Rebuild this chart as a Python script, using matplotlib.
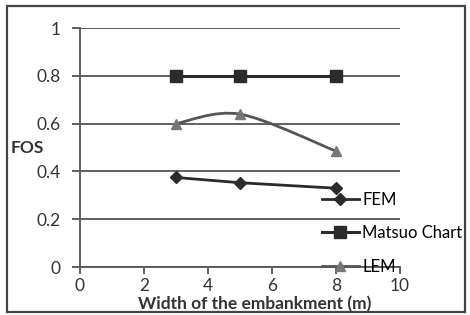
import matplotlib.pyplot as plt
from matplotlib.path import Path
from matplotlib.patches import PathPatch, Rectangle
from matplotlib.lines import Line2D

# data
width = [3, 5, 8]
fem = [0.375, 0.353, 0.330]
matsuo = [0.80, 0.80, 0.80]
lem = [0.600, 0.640, 0.485]

plt.rcParams['font.family'] = ['Lato', 'DejaVu Sans']

fig = plt.figure(figsize=(4.7, 3.15), dpi=100)
ax = fig.add_axes([0.170, 0.152, 0.681, 0.759])

# outer chart border
fig.patches.append(Rectangle((0.015, 0.008), 0.975, 0.972, transform=fig.transFigure,
                             fill=False, edgecolor='#444444', linewidth=1.6))

dark = '#2b2b2b'
ax.plot(width, fem, color=dark, lw=2, marker='D', markersize=6, label='FEM')
ax.plot(width, matsuo, color=dark, lw=2.2, marker='s', markersize=8, label='Matsuo Chart')

# smoothed LEM line (Excel style), cubic bezier through the points
def smooth_path(xs, ys, t=0.16):
    verts = [(xs[0], ys[0])]
    codes = [Path.MOVETO]
    n = len(xs)
    for i in range(n - 1):
        x0, y0 = xs[max(i - 1, 0)], ys[max(i - 1, 0)]
        x1, y1 = xs[i], ys[i]
        x2, y2 = xs[i + 1], ys[i + 1]
        x3, y3 = xs[min(i + 2, n - 1)], ys[min(i + 2, n - 1)]
        c1 = (x1 + (x2 - x0) * t, y1 + (y2 - y0) * t)
        c2 = (x2 - (x3 - x1) * t, y2 - (y3 - y1) * t)
        verts += [c1, c2, (x2, y2)]
        codes += [Path.CURVE4] * 3
    return Path(verts, codes)

ax.add_patch(PathPatch(smooth_path(width, lem), facecolor='none', edgecolor='#555555', lw=2))
ax.plot(width, lem, ls='none', marker='^', markersize=7, color='#777777')

ax.set_xlim(0, 10)
ax.set_ylim(0, 1)
ax.set_xticks([0, 2, 4, 6, 8, 10])
ax.set_yticks([0, 0.2, 0.4, 0.6, 0.8, 1])
ax.set_yticklabels(['0', '0.2', '0.4', '0.6', '0.8', '1'])
ax.grid(axis='y', color='#555555', lw=1.3)
ax.set_axisbelow(True)
for s in ['top', 'right']:
    ax.spines[s].set_visible(False)
ax.spines['left'].set_color('#555555')
ax.spines['bottom'].set_color('#555555')
ax.spines['left'].set_linewidth(1.3)
ax.spines['bottom'].set_linewidth(1.3)
ax.tick_params(axis='y', length=6, width=1.3, color='#555555', labelsize=12.5, labelcolor='#333333', pad=8)
ax.tick_params(axis='x', length=5, width=1.3, color='#555555', labelsize=12.5, labelcolor='#333333', pad=3)

ax.set_ylabel('FOS', fontsize=12.5, fontweight='bold', rotation=0, color='#333333',
              va='center', ha='center')
ax.yaxis.set_label_coords(-0.165, 0.5)
ax.set_xlabel('Width of the embankment (m)', fontsize=12.5, fontweight='bold', color='#333333',
              va='center')
ax.xaxis.set_label_coords(0.547, -0.155)

handles = [Line2D([], [], color=dark, lw=2, marker='D', markersize=6),
           Line2D([], [], color=dark, lw=2.2, marker='s', markersize=8),
           Line2D([], [], color='#555555', lw=2, marker='^', markersize=7, markerfacecolor='#777777',
                  markeredgecolor='#777777')]
ax.legend(handles, ['FEM', 'Matsuo Chart', 'LEM'], loc='lower left',
          bbox_to_anchor=(0.71, -0.095), frameon=False, fontsize=12,
          handlelength=2.2, handletextpad=0.2, labelspacing=1.05)

fig.savefig('out.png', dpi=100)
